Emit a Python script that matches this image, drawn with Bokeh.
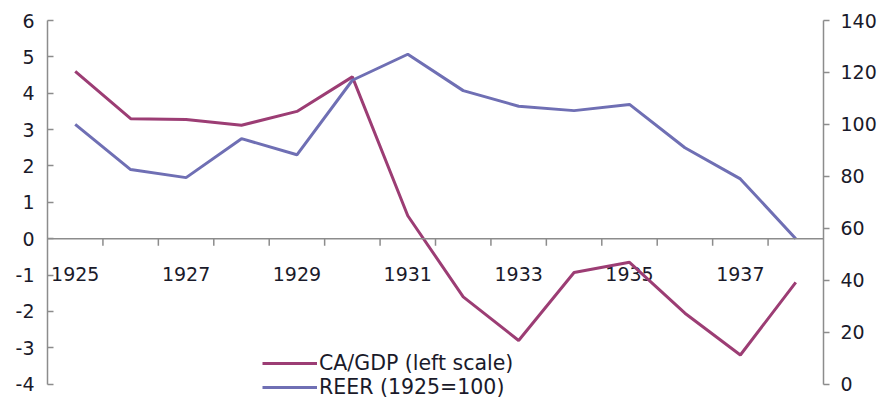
from bokeh.plotting import figure
from bokeh.models import Range1d, LinearAxis, FixedTicker, Span, Legend, LegendItem
from bokeh.core.properties import value
from bokeh.embed import file_html
from bokeh.resources import INLINE

years = list(range(1925, 1939))
ca_gdp = [4.6, 3.3, 3.28, 3.12, 3.5, 4.45, 0.63, -1.6, -2.8, -0.93, -0.65, -2.05, -3.2, -1.2]
reer = [100, 82.6, 79.5, 94.5, 88.3, 117, 127, 113, 107, 105.3, 107.7, 91, 79, 56]
year_labels = [str(y) for y in years[::2]]
left_ticks = list(range(-4, 7))
right_ticks = list(range(0, 141, 20))

FONT = "DejaVu Sans"
AX = "#8c8c8c"
TXT = "#1a1a2a"
CA_COL = "#9c3d74"
REER_COL = "#6f6fb4"

W, H = 885, 400
F_LEFT, F_RIGHT, F_TOP, AXIS_BOTTOM = 47, 823, 20, 383.6
px_per_unit = (AXIS_BOTTOM - F_TOP) / (left_ticks[-1] - left_ticks[0])
extra = (H - AXIS_BOTTOM) / px_per_unit           # frame extends below the axes' end
r_scale = (right_ticks[-1] - right_ticks[0]) / (left_ticks[-1] - left_ticks[0])

p = figure(width=W, height=H, output_backend="svg", toolbar_location=None,
           x_range=Range1d(years[0] - 0.5, years[-1] + 0.5),
           y_range=Range1d(left_ticks[0] - extra, left_ticks[-1]),
           x_axis_type=None, y_axis_location=None,
           min_border_left=F_LEFT, min_border_right=W - F_RIGHT,
           min_border_top=F_TOP, min_border_bottom=0)
p.outline_line_color = None
p.xgrid.visible = False
p.ygrid.visible = False
p.background_fill_color = "white"
p.border_fill_color = "white"

p.extra_y_ranges = {"reer": Range1d(right_ticks[0] - extra * r_scale, right_ticks[-1])}

def style_axis(ax):
    ax.axis_line_color = AX
    ax.axis_line_width = 1.5
    ax.major_tick_line_color = AX
    ax.major_tick_line_width = 1.5
    ax.minor_tick_line_color = None
    ax.major_label_text_font = FONT
    ax.major_label_text_font_size = "19px"
    ax.major_label_text_color = TXT

left = LinearAxis(ticker=FixedTicker(ticks=left_ticks), bounds=(left_ticks[0], left_ticks[-1]),
                  major_label_overrides={t: str(t) for t in left_ticks})
style_axis(left)
left.major_tick_in = 6
left.major_tick_out = 0
left.major_label_standoff = 13
p.add_layout(left, "left")

right = LinearAxis(y_range_name="reer", ticker=FixedTicker(ticks=right_ticks),
                   bounds=(right_ticks[0], right_ticks[-1]))
style_axis(right)
right.major_tick_in = 0
right.major_tick_out = 6
right.major_label_standoff = 11
p.add_layout(right, "right")

# category axis drawn at y = 0
p.add_layout(Span(location=0, dimension="width", line_color=AX, line_width=1.5))
tick_len = 7 / px_per_unit
bounds = [y + 0.5 for y in years[:-1]]
p.segment(x0=bounds, y0=[0] * len(bounds), x1=bounds, y1=[-tick_len] * len(bounds),
          line_color=AX, line_width=1.5)
p.text(x=years[::2], y=[0] * len(year_labels), text=year_labels,
       text_font=value(FONT), text_font_size="19px", text_color=TXT,
       text_align="center", text_baseline="middle", y_offset=35)

r1 = p.line(years, ca_gdp, line_color=CA_COL, line_width=3)
r2 = p.line(years, reer, line_color=REER_COL, line_width=3, y_range_name="reer")

legend = Legend(items=[LegendItem(label="CA/GDP (left scale)", renderers=[r1]),
                       LegendItem(label="REER (1925=100)", renderers=[r2])],
                location=(215, 1), orientation="vertical",
                glyph_width=55, glyph_height=20, label_standoff=2, spacing=-1,
                padding=0, margin=0, border_line_color=None, background_fill_alpha=0,
                label_text_font=FONT, label_text_font_size="20.5px", label_text_color=TXT)
p.add_layout(legend, "center")

open("out.html", "w").write(file_html(p, INLINE))
